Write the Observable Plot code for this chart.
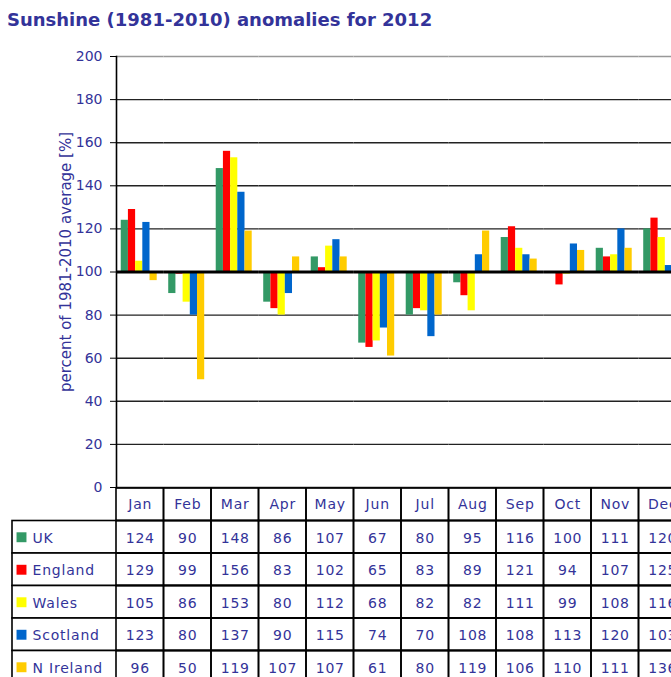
<!DOCTYPE html>
<html><head><meta charset="utf-8">
<script src="https://cdn.jsdelivr.net/npm/d3@7"></script>
<script src="https://cdn.jsdelivr.net/npm/@observablehq/plot@0.6"></script>
<style>
html,body{margin:0;padding:0;background:#fff;overflow:hidden;}
body{font-family:"DejaVu Sans",sans-serif;width:671px;height:677px;}
#title{height:40px;box-sizing:border-box;padding:9px 0 0 7px;font-weight:bold;font-size:18px;color:#333399;line-height:22px;white-space:nowrap;}
#wrap{width:700px;}
svg{display:block;}
</style></head><body>
<div id="title">Sunshine (1981-2010) anomalies for 2012</div>
<div id="wrap"></div>
<script>
const months = ["Jan","Feb","Mar","Apr","May","Jun","Jul","Aug","Sep","Oct","Nov","Dec"];
const series = ["UK","England","Wales","Scotland","N Ireland"];
const uk       = [124, 90, 148,  86, 107, 67, 80,  95, 116, 100, 111, 120];
const england  = [129, 99, 156,  83, 102, 65, 83,  89, 121,  94, 107, 125];
const wales    = [105, 86, 153,  80, 112, 68, 82,  82, 111,  99, 108, 116];
const scotland = [123, 80, 137,  90, 115, 74, 70, 108, 108, 113, 120, 103];
const nireland = [ 96, 50, 119, 107, 107, 61, 80, 119, 106, 110, 111, 136];
const colors = ["#339966","#ff0000","#ffff00","#0066cc","#ffcc00"];
const yTicks = [0,20,40,60,80,100,120,140,160,180,200];
const yLabel = "percent of 1981-2010 average [%]";

const values = [uk, england, wales, scotland, nireland];
const data = series.flatMap((s, i) => months.map((m, j) => ({series: s, month: m, value: values[i][j]})));

const W = 700, ML = 116, MR = 14;
const textColor = "#333399";

const chart = Plot.plot({
  width: W, height: 448,
  marginTop: 16, marginBottom: 1, marginLeft: ML, marginRight: MR,
  style: {fontFamily: "DejaVu Sans", fontSize: "14px", background: "white", overflow: "visible"},
  fx: {domain: months, padding: 0, round: false, axis: null, label: null},
  x: {domain: series, paddingInner: 0, paddingOuter: 0.8, align: 0.41, round: false, axis: null},
  y: {domain: [0, 200], axis: null},
  color: {domain: series, range: colors},
  marks: [
    Plot.ruleY(yTicks.filter(t => t < 200), {stroke: "#222", strokeWidth: 1.4}),
    Plot.ruleY(yTicks.filter(t => t === 200), {stroke: "#999", strokeWidth: 1.4}),
    Plot.barY(data, {fx: "month", x: "series", y1: 100, y2: "value", fill: "series"}),
    Plot.ruleY([100], {stroke: "#000", strokeWidth: 3}),
    Plot.frame({anchor: "left", facetAnchor: "left", stroke: "#000", strokeWidth: 1.6}),
    Plot.axisY({ticks: yTicks, tickSize: 6, tickPadding: 8, anchor: "left",
      stroke: "#000", fill: textColor, fontSize: 14, label: null}),
    Plot.text([yLabel], {text: d => d, frameAnchor: "left", textAnchor: "middle", lineAnchor: "middle",
      dx: -50, dy: -10, rotate: -90,
      facetAnchor: "left", fill: textColor, fontSize: 15, ariaLabel: "y-title"})
  ]
});
d3.select(chart).selectAll('[aria-label="y-title"] text').style("letter-spacing", "0.4px");

const rowDomain = [""].concat(series);
const table = Plot.plot({
  width: W, height: 195,
  marginTop: 0, marginBottom: 0, marginLeft: ML, marginRight: MR,
  style: {fontFamily: "DejaVu Sans", fontSize: "14px", background: "white", letterSpacing: "0.8px", overflow: "visible"},
  x: {domain: months, padding: 0, round: false, axis: null},
  y: {domain: rowDomain, padding: 0, round: false, axis: null},
  color: {domain: series, range: colors},
  marks: [
    Plot.cell(series, {y: d => d, fill: "white", stroke: "#000", strokeWidth: 1.6, insetLeft: -104}),
    Plot.cell(data, {x: "month", y: "series", fill: "none", stroke: "#000", strokeWidth: 1.6}),
    Plot.cell(months, {x: d => d, y: () => "", fill: "none", stroke: "#000", strokeWidth: 1.6}),
    Plot.text(months, {x: d => d, y: () => "", text: d => d, fill: textColor}),
    Plot.text(data, {x: "month", y: "series", text: d => String(d.value), fill: textColor, dy: 1}),
    Plot.dot(series, {y: d => d, frameAnchor: "left", dx: -95, symbol: "square", r: 5.6, fill: d => d}),
    Plot.text(series, {y: d => d, frameAnchor: "left", dx: -84, textAnchor: "start", text: d => d, fill: textColor, dy: 1})
  ]
});

document.getElementById("wrap").append(chart, table);
</script>
</body></html>
